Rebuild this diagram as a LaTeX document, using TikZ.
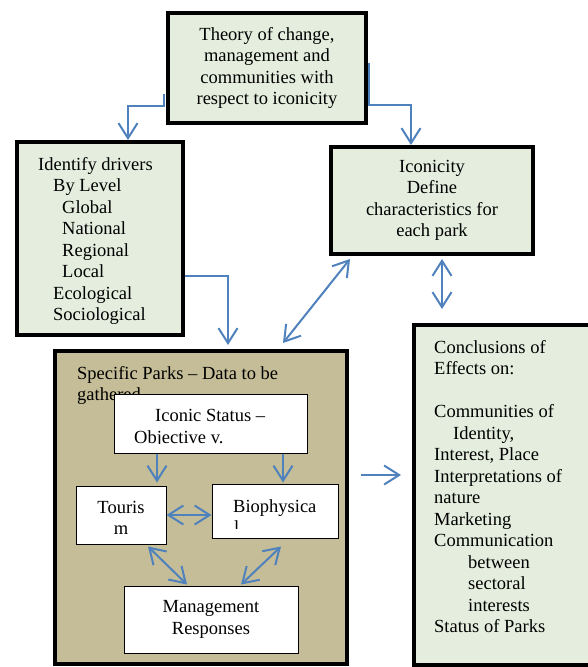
\documentclass[tikz,border=0pt]{standalone}
\usepackage{fontspec}
\setmainfont{Liberation Serif}
\usetikzlibrary{arrows.meta}
\definecolor{boxgreen}{HTML}{E5EEDE}
\definecolor{parktan}{HTML}{C4BD97}
\definecolor{linkblue}{HTML}{4F81BD}
\begin{document}
\begin{tikzpicture}
    [   x=1pt, y=-1pt,
        >={Straight Barb[length=15pt,width=19pt]},
        every node/.style={font=\fontsize{18.5}{21.5}\selectfont, inner sep=0pt},
        bigbox/.style={draw=black, line width=4pt, fill=#1},
        bigbox/.default=boxgreen,
        databox/.style={draw=black, line width=1pt, fill=white, align=center},
        link/.style={draw=linkblue, line width=2pt, ->},
        twolink/.style={draw=linkblue, line width=2pt, <->},
        txtline/.style={anchor=base west},
    ]
    \useasboundingbox (0,0) rectangle (588,667);

    \node[bigbox, minimum width=198pt, minimum height=110pt, align=center] (theory) at (267,68)
        {Theory of change,\\management and\\communities with\\respect to iconicity};

    \node[bigbox, minimum width=166pt, minimum height=193pt] (drivers) at (100,238.5) {};
    \foreach \dx/\txt [count=\i from 0] in {0/Identify drivers, 15/By Level, 24/Global, 24/National,
                                          24/Regional, 24/Local, 15/Ecological, 15/Sociological}
        \node[txtline] (drv-\i) at (38+\dx,170+21.5*\i) {\txt};

    \node[bigbox, minimum width=202pt, minimum height=107pt, align=center] (iconicity) at (432,200.5)
        {Iconicity\\Define\\characteristics for\\each park};

    % park data block
    \node[bigbox=parktan, minimum width=292pt, minimum height=313pt] (parks) at (201,507.5) {};
    \node[txtline] (parks-1) at (77,379) {Specific Parks – Data to be};
    \node[txtline] (parks-2) at (77,400.5) {gathered};

    \node[databox, minimum width=193pt, minimum height=59pt] (iconic) at (210.5,423.5) {};
    \begin{scope}
        \clip (iconic.north west) rectangle (iconic.east |- 0,443);
        \node[txtline] (iconic-1) at (155,421) {Iconic Status –};
        \node[txtline] (iconic-2) at (134,443) {Objective v.};
    \end{scope}
    \node[databox, minimum width=90pt, minimum height=58pt] (tourism) at (121,515) {};
    \node[anchor=base] (tourism-1) at (121,513) {Touris};
    \node[anchor=base] (tourism-2) at (121,534.5) {m};
    \node[databox, minimum width=126pt, minimum height=54pt] (bio) at (275,511) {};
    \begin{scope}
        \clip (bio.north west) rectangle (bio.east |- 0,528);
        \node[txtline] (bio-1) at (233,512) {Biophysica};
        \node[txtline] (bio-2) at (234,533.5) {l};
    \end{scope}
    \node[databox, minimum width=174pt, minimum height=67pt] (mgmt) at (211,619.5) {Management\\Responses};

    \node[bigbox, minimum width=180pt, minimum height=340pt] (concl) at (504,495) {};
    \foreach \dx/\k/\txt in {0/0/Conclusions of, 0/1/Effects on:, 0/3/Communities of, 19/4/{Identity,},
                             0/5/{Interest, Place}, 0/6/Interpretations of, 0/7/nature, 0/8/Marketing,
                             0/9/Communication, 34/10/between, 34/11/sectoral, 34/12/interests,
                             0/13/Status of Parks}
        \node[txtline] (concl-\k) at (434+\dx,353+21.5*\k) {\txt};

    % connectors
    \draw[link] ([xshift=-2pt,yshift=-26pt]theory.west) -- ++(0,12) -| ([xshift=28pt]drivers.north);
    \draw[link] ([xshift=1pt,yshift=5pt]theory.east) -- ++(0,42) -| ([xshift=-21pt]iconicity.north);
    \draw[link, shorten >=4pt] (drivers.east |- 0,276) -| ([xshift=27pt]parks.north);
    \draw[twolink] ([xshift=-82pt,yshift=-3pt]iconicity.south) -- ([xshift=82pt,yshift=6pt]parks.north);
    \draw[twolink] ([xshift=10pt,yshift=-3pt]iconicity.south) -- ([xshift=-62pt,yshift=14pt]concl.north);
    \draw[link, shorten <=12pt, shorten >=11pt] (parks.east |- 0,475) -- (concl.west |- 0,475);
    \draw[link, shorten >=3pt] (iconic.south -| 157,0) -- (tourism.north -| 157,0);
    \draw[link, shorten >=1pt] (iconic.south -| 283,0) -- (bio.north -| 283,0);
    \draw[twolink] (tourism.east |- 0,515) -- (bio.west |- 0,515);
    \draw[twolink] ([xshift=27pt,yshift=-2pt]tourism.south) -- ([xshift=-24pt,yshift=1pt]mgmt.north);
    \draw[twolink] ([xshift=6pt,yshift=-8pt]bio.south) -- ([xshift=30pt,yshift=1pt]mgmt.north);
\end{tikzpicture}
\end{document}
